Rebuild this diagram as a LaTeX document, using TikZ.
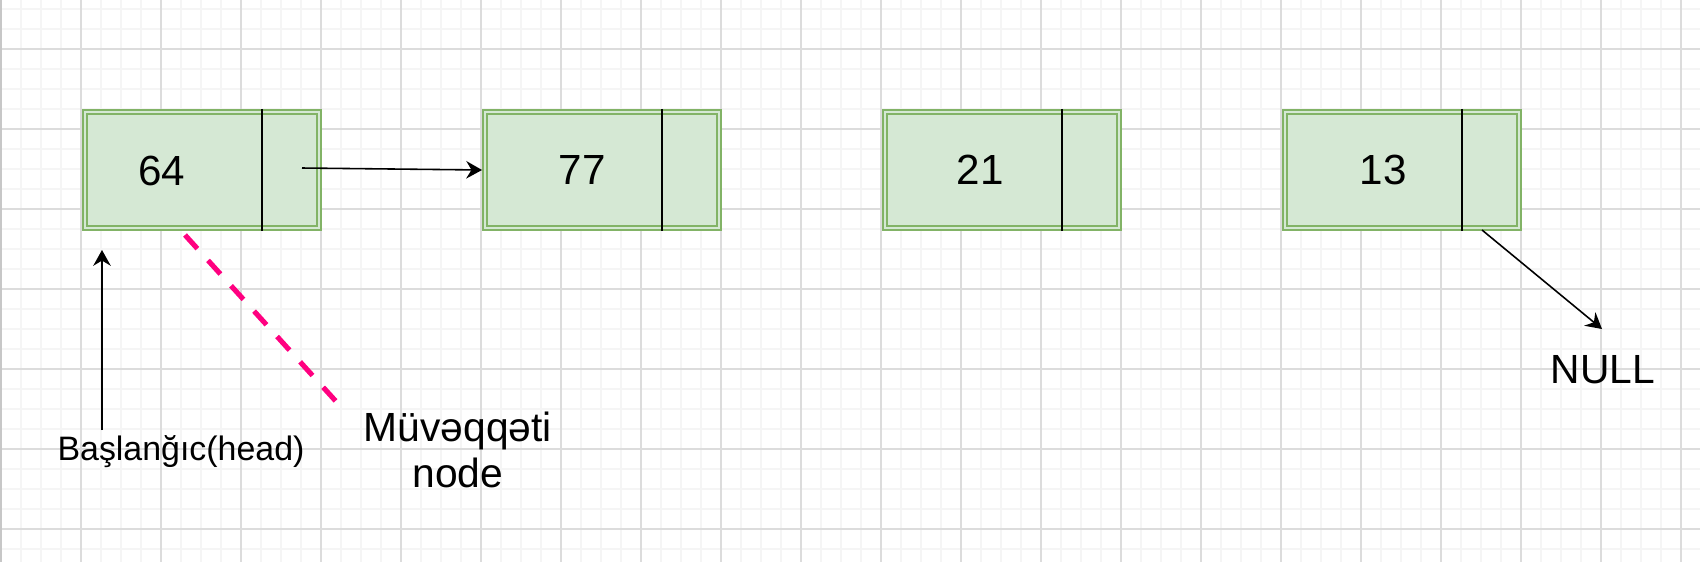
\documentclass[tikz,border=0pt]{standalone}
\usepackage{fontspec}
\setmainfont{Liberation Sans}
\usepackage{tikz}
\usetikzlibrary{
    calc,
    positioning,
    arrows.meta
}

\begin{document}
\begin{tikzpicture}[
    x=0.02cm, y=-0.02cm,
    font=\fontsize{23.2}{26.6}\selectfont,
    box/.style={
    	draw=my-green-line, fill=my-green, double=my-green,
    	line width=1.2pt, double distance=1.1pt,
    	minimum width=4.68cm, minimum height=2.32cm,
    	inner sep=0pt, outer sep=0.06cm
    }, val/.style={
    	font=\fontsize{24}{28}\selectfont
    }, sep/.style={
    	line width=1.1pt
    }, pil/.style={
    	-{Stealth[length=9pt, width=10pt, inset=3pt]},
    	line width=0.9pt
    }, tmp/.style={
    	draw=my-pink, line width=2.9pt, dash pattern=on 10.5pt off 9pt
    }, minor/.style={
    	draw=my-grid-light, line width=1.1pt
    }, major/.style={
    	draw=my-grid, line width=0.6pt
    }]
    \definecolor{my-green}{RGB}{213, 232, 212}
    \definecolor{my-green-line}{RGB}{130, 179, 102}
    \definecolor{my-pink}{RGB}{255, 0, 128}
    \definecolor{my-grid}{RGB}{220, 220, 220}
    \definecolor{my-grid-light}{RGB}{245, 245, 245}

    \useasboundingbox (0,0) rectangle (1700,562);

    %%% grid
    \foreach \x in {1,21,...,1700} \draw[minor] (\x,0) -- (\x,562);
    \foreach \y in {9,29,...,562} \draw[minor] (0,\y) -- (1700,\y);
    \foreach \x in {1,81,...,1700} \draw[major] (\x,0) -- (\x,562);
    \foreach \y in {49,129,...,562} \draw[major] (0,\y) -- (1700,\y);
    \draw[draw=black!22, line width=1.1pt] (1,0) -- (1,562);

    %%% list nodes
    \node[box] (node1) at (202,170) {};
    \node[box] (node2) at (602,170) {};
    \node[box] (node3) at (1002,170) {};
    \node[box] (node4) at (1402,170) {};

    \draw[sep] ($(node1.north)+(60,0)$) -- ($(node1.south)+(60,0)$);
    \draw[sep] ($(node2.north)+(60,0)$) -- ($(node2.south)+(60,0)$);
    \draw[sep] ($(node3.north)+(60,0)$) -- ($(node3.south)+(60,0)$);
    \draw[sep] ($(node4.north)+(60,0)$) -- ($(node4.south)+(60,0)$);

    \node[val] (val1) at (162,171) {64};
    \node[val] (val2) at (582,170) {77};
    \node[val] (val3) at (980,170) {21};
    \node[val] (val4) at (1383,170) {13};

    %%% labels
    \node[font=\fontsize{19.3}{22}\selectfont] (head) at (181,452) {Başlanğıc(head)};
    \node[align=center] (temp) at (458,450) {Müvəqqəti\\node};
    \node (null) at (1603,370) {NULL};

    %%% EDGES
    \coordinate (next1) at (302,168);
    \coordinate (headfoot) at (102,430);
    \coordinate (headtip) at (102,250);
    \coordinate (tempfrom) at (185,235);
    \coordinate (tempto) at (342,408);
    \coordinate (next4) at (1482,230);
    \coordinate (nulltip) at (1602,329);

    \draw[pil] (next1) -- (node2.west);
    \draw[pil] (headfoot) -- (headtip);
    \draw[tmp] (tempfrom) -- (tempto);
    \draw[pil] (next4) -- (nulltip);

\end{tikzpicture}
\end{document}
